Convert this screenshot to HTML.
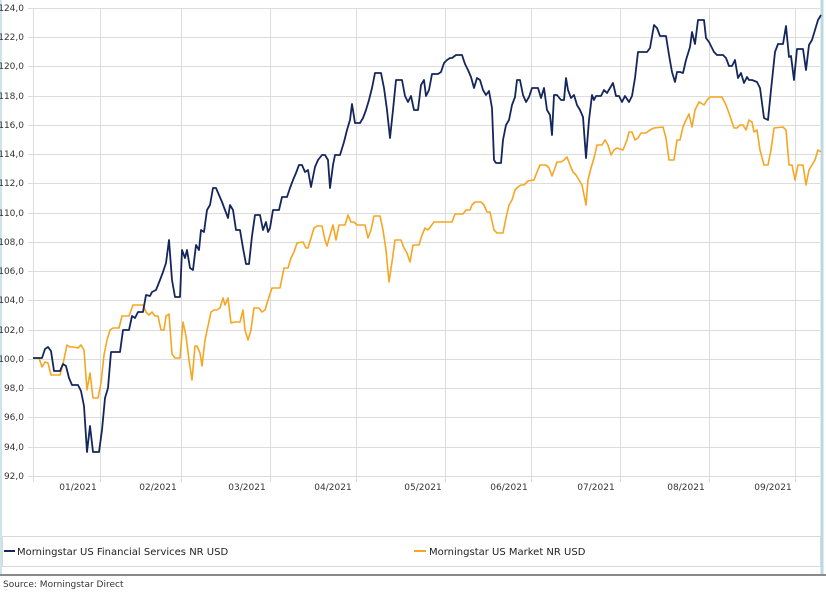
<!DOCTYPE html>
<html><head><style>
html,body{margin:0;padding:0;background:#fff;}
body{width:826px;height:597px;overflow:hidden;font-family:"Liberation Sans","DejaVu Sans",sans-serif;}
text{font-family:"DejaVu Sans","Liberation Sans",sans-serif;font-size:9px;fill:#333;}
</style></head><body>
<svg width="826" height="597" viewBox="0 0 826 597" xmlns="http://www.w3.org/2000/svg">
<rect x="0" y="0" width="826" height="597" fill="#fff"/>
<line x1="1" y1="0" x2="1" y2="575" stroke="#cfe3ea" stroke-width="2"/>
<line x1="822" y1="0" x2="822" y2="575" stroke="#bcd8e4" stroke-width="3"/>
<g stroke="#dcdcdc" stroke-width="1">
<line x1="28" y1="8.5" x2="820" y2="8.5"/><line x1="28" y1="37.5" x2="820" y2="37.5"/><line x1="28" y1="66.5" x2="820" y2="66.5"/><line x1="28" y1="96.5" x2="820" y2="96.5"/><line x1="28" y1="125.5" x2="820" y2="125.5"/><line x1="28" y1="154.5" x2="820" y2="154.5"/><line x1="28" y1="183.5" x2="820" y2="183.5"/><line x1="28" y1="213.5" x2="820" y2="213.5"/><line x1="28" y1="242.5" x2="820" y2="242.5"/><line x1="28" y1="271.5" x2="820" y2="271.5"/><line x1="28" y1="300.5" x2="820" y2="300.5"/><line x1="28" y1="330.5" x2="820" y2="330.5"/><line x1="28" y1="359.5" x2="820" y2="359.5"/><line x1="28" y1="388.5" x2="820" y2="388.5"/><line x1="28" y1="417.5" x2="820" y2="417.5"/><line x1="28" y1="447.5" x2="820" y2="447.5"/><line x1="28" y1="476.5" x2="820" y2="476.5"/>
<line x1="33.5" y1="8" x2="33.5" y2="482"/><line x1="100.5" y1="8" x2="100.5" y2="482"/><line x1="181.5" y1="8" x2="181.5" y2="482"/><line x1="270.5" y1="8" x2="270.5" y2="482"/><line x1="356.5" y1="8" x2="356.5" y2="482"/><line x1="445.5" y1="8" x2="445.5" y2="482"/><line x1="531.5" y1="8" x2="531.5" y2="482"/><line x1="620.5" y1="8" x2="620.5" y2="482"/><line x1="709.5" y1="8" x2="709.5" y2="482"/><line x1="795.5" y1="8" x2="795.5" y2="482"/>
</g>
<g text-anchor="end">
<text x="24" y="11">124,0</text><text x="24" y="40">122,0</text><text x="24" y="69">120,0</text><text x="24" y="99">118,0</text><text x="24" y="128">116,0</text><text x="24" y="157">114,0</text><text x="24" y="186">112,0</text><text x="24" y="216">110,0</text><text x="24" y="245">108,0</text><text x="24" y="274">106,0</text><text x="24" y="303">104,0</text><text x="24" y="333">102,0</text><text x="24" y="362">100,0</text><text x="24" y="391">98,0</text><text x="24" y="420">96,0</text><text x="24" y="450">94,0</text><text x="24" y="479">92,0</text>
</g>
<g text-anchor="middle">
<text x="78" y="490">01/2021</text><text x="158" y="490">02/2021</text><text x="247" y="490">03/2021</text><text x="333" y="490">04/2021</text><text x="423" y="490">05/2021</text><text x="509" y="490">06/2021</text><text x="596" y="490">07/2021</text><text x="686" y="490">08/2021</text><text x="773" y="490">09/2021</text>
</g>
<polyline fill="none" stroke="#f5a623" stroke-width="1.6" stroke-linejoin="round" points="33,358 39,358 42,367 45,362 48,363 51,375 60,375 63,364 67,345 70,347 73,347 78,348 81,345 84,350 87,390 90,373 93,398 98,398 101,383 104,355 107,340 110,330 113,328 119,328 122,316 129,316 133,305 143,305 146,312 149,315 152,312 155,316 158,316 161,330 164,330 166,316 169,314 172,354 175,358 180,358 183,322 186,336 189,360 192,380 195,346 197,346 200,353 202,366 205,340 208,326 211,312 214,310 217,310 220,308 223,298 225,305 228,298 231,323 235,322 240,322 243,310 245,330 248,340 251,330 254,308 259,308 262,312 265,310 268,300 272,288 280,288 284,268 288,268 291,258 294,252 297,243 303,242 306,248 308,248 311,238 314,228 317,226 322,226 325,240 327,246 330,235 333,225 336,240 339,225 345,225 348,215 351,222 354,222 357,225 365,225 368,238 371,230 374,216 380,216 383,230 386,250 389,282 392,262 395,240 401,240 404,248 407,253 410,262 413,245 419,245 422,235 425,228 428,230 431,226 434,222 452,222 455,214 463,214 466,210 470,210 472,205 475,202 481,202 484,205 487,212 490,212 494,230 497,233 503,233 506,218 509,205 512,200 515,190 518,187 521,185 524,185 528,181 534,180 537,172 540,165 546,165 549,168 552,176 555,168 557,162 561,162 564,160 567,157 570,165 573,172 576,175 579,180 582,185 586,205 588,180 591,168 594,158 597,145 602,145 605,140 608,145 611,155 614,150 617,148 623,150 627,140 629,132 632,132 635,140 638,138 641,133 646,133 650,130 654,128 663,127 666,138 669,160 674,160 677,140 680,140 683,127 686,120 689,114 692,127 695,110 699,102 701,103 704,105 707,100 710,97 722,97 726,105 730,116 734,128 737,128 740,125 743,125 746,130 749,120 752,122 754,132 757,130 760,150 764,165 768,165 771,150 774,128 783,127 786,130 789,165 792,165 795,180 798,165 803,165 806,185 809,170 812,165 815,160 818,150 821,152"/>
<polyline fill="none" stroke="#14265c" stroke-width="1.8" stroke-linejoin="round" points="33,358 42,358 45,349 48,347 51,351 54,371 60,371 63,364 66,366 69,378 72,385 78,385 81,391 84,406 87,452 90,426 93,452 99,452 102,430 105,398 108,388 111,352 120,352 123,330 129,330 132,316 135,318 138,312 143,312 146,295 150,296 152,292 156,290 160,280 163,272 166,263 169,240 172,280 175,297 180,297 182,250 185,258 187,250 190,268 193,270 196,245 199,250 201,230 204,232 207,210 210,205 213,188 216,188 219,195 222,202 225,210 228,218 230,205 233,210 236,230 240,230 243,248 246,264 249,264 252,236 255,215 260,215 263,230 266,222 268,232 270,228 273,210 279,210 282,197 287,197 290,188 293,180 296,173 299,165 302,165 305,172 308,170 311,187 315,167 318,160 322,155 325,155 328,160 330,188 333,165 335,155 340,155 344,142 347,130 350,120 352,104 355,123 360,123 363,118 366,110 369,100 372,88 375,73 381,73 384,88 387,110 390,138 393,110 396,80 402,80 405,96 408,102 411,96 414,110 418,110 421,85 424,80 426,96 429,90 432,74 438,74 441,72 444,63 447,60 450,58 452,58 456,55 462,55 465,64 468,70 471,77 474,88 477,78 480,80 483,90 486,95 489,91 492,108 494,160 496,163 501,163 503,140 506,125 509,120 512,105 515,97 517,80 520,80 523,95 526,102 529,97 532,88 538,88 541,98 544,88 547,110 550,115 552,135 554,95 557,95 561,100 564,100 566,78 568,90 571,98 574,95 577,105 580,110 583,117 586,158 589,120 592,95 594,100 596,96 601,96 604,90 607,93 610,88 613,83 616,96 619,96 622,102 625,96 629,102 632,96 635,78 638,52 647,52 650,48 654,25 657,28 660,36 666,36 669,55 672,72 675,82 677,72 680,72 683,73 686,60 690,47 692,32 695,44 698,20 704,20 706,38 709,42 712,48 714,52 717,55 723,55 726,58 729,66 732,66 735,60 738,78 741,73 744,83 747,77 749,80 752,80 757,82 760,88 764,118 768,120 771,90 775,52 778,44 783,44 786,26 789,57 791,56 794,80 797,49 803,49 806,70 809,45 812,40 815,30 818,20 821,15"/>
<rect x="2.5" y="536.5" width="818" height="30" fill="none" stroke="#d8d8d8"/>
<line x1="4" y1="551" x2="15" y2="551" stroke="#14265c" stroke-width="2"/>
<text x="17" y="555" style="font-size:10px;fill:#222">Morningstar US Financial Services NR USD</text>
<line x1="414" y1="551" x2="426" y2="551" stroke="#f5a623" stroke-width="2"/>
<text x="429" y="555" style="font-size:10px;fill:#222">Morningstar US Market NR USD</text>
<line x1="0" y1="575" x2="826" y2="575" stroke="#8a8a8a" stroke-width="2"/>
<text x="3" y="587" style="font-size:9px;fill:#333">Source: Morningstar Direct</text>
</svg>
</body></html>
